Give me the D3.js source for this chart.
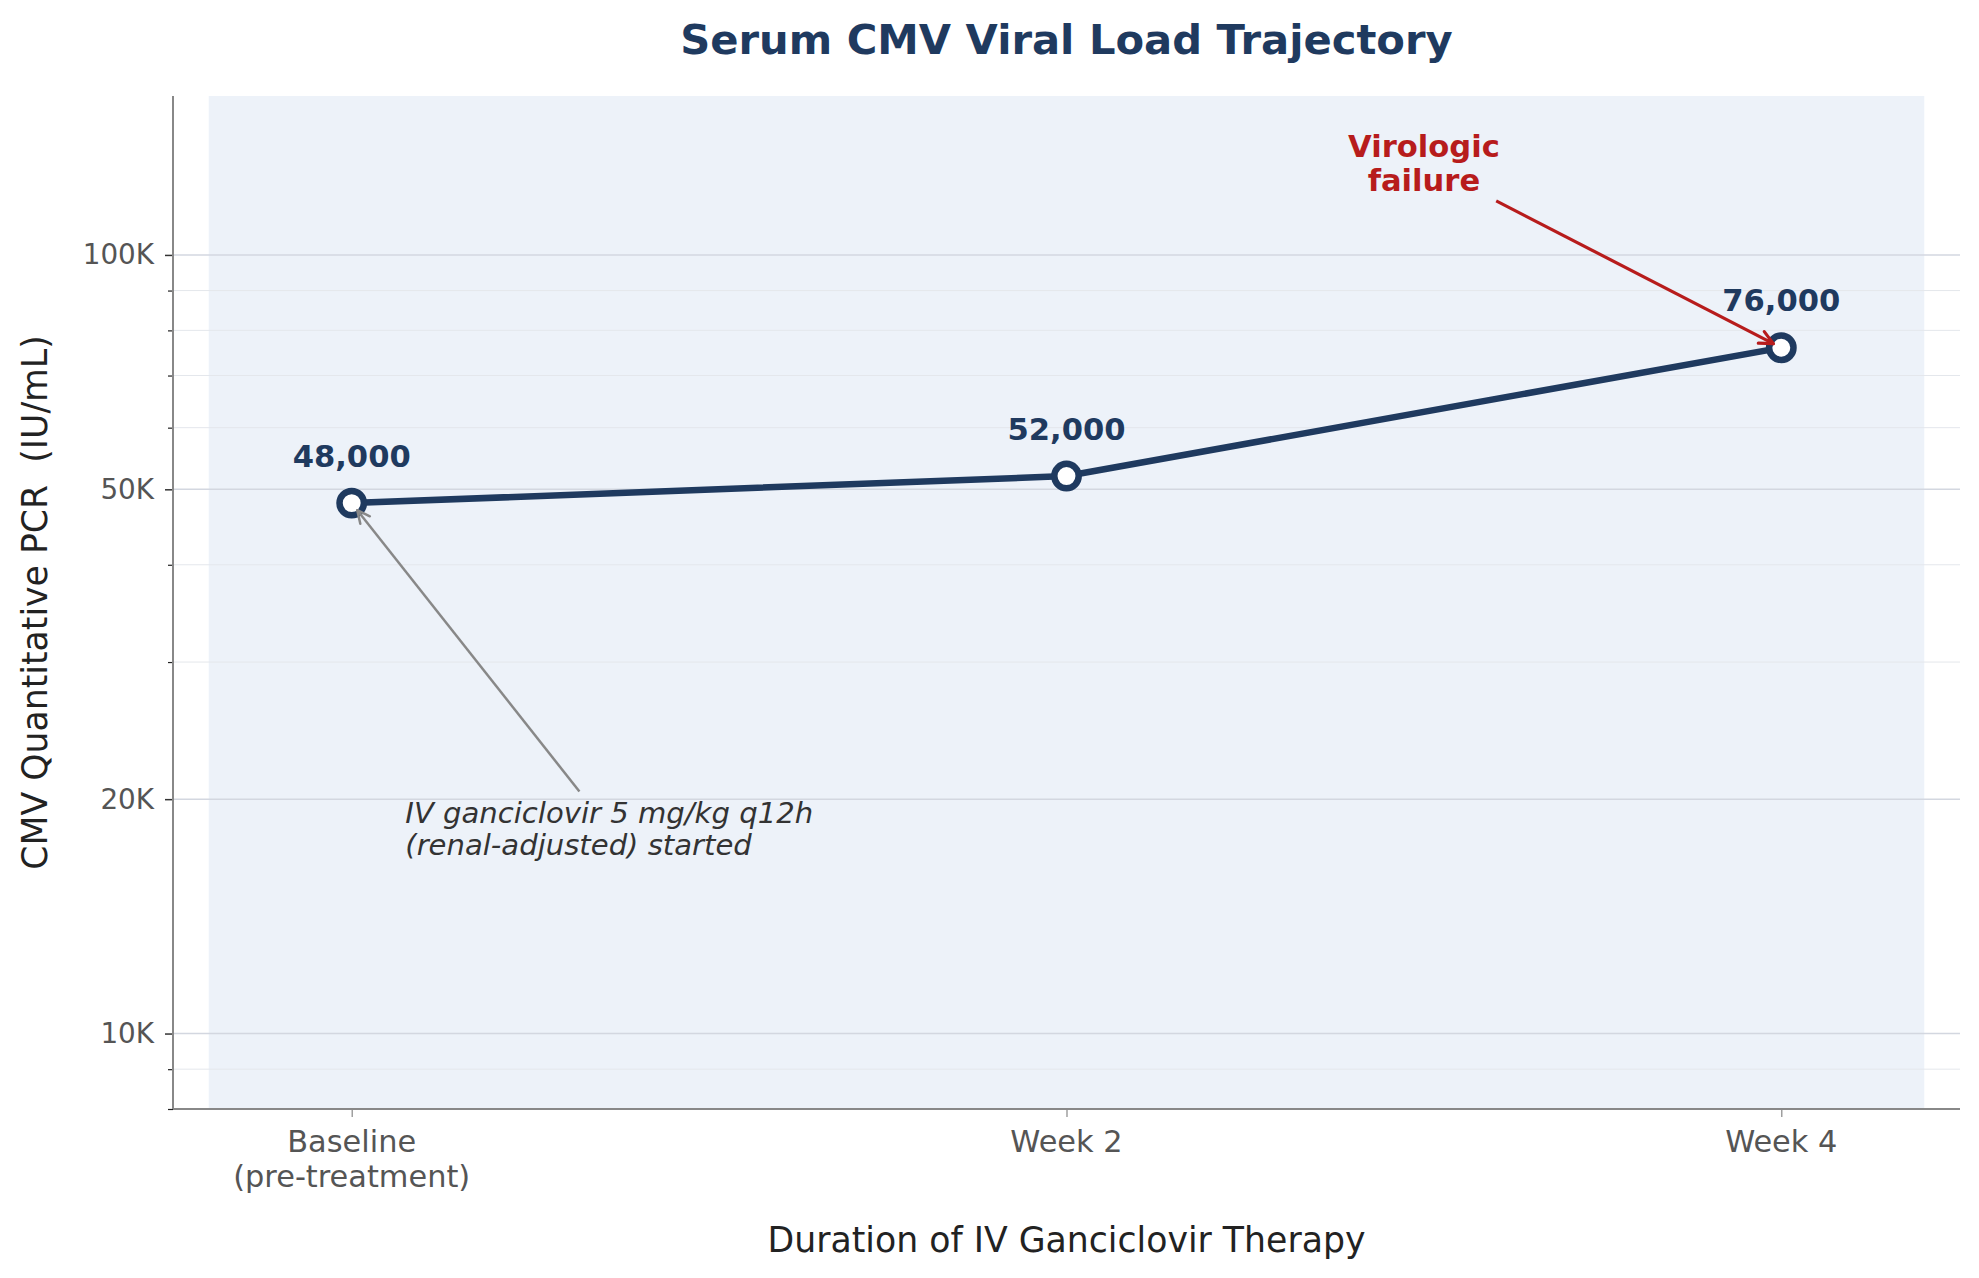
<!DOCTYPE html>
<html>
<head>
<meta charset="utf-8">
<script src="https://cdn.jsdelivr.net/npm/d3@7/dist/d3.min.js"></script>
<style>
	body { margin: 0; background: #ffffff; }
	text { font-family: 'DejaVu Sans', sans-serif; }
</style>
</head>
<body>
<div id="chart"></div>
<script>
'use strict';

// DATA
var categories = [['Baseline', '(pre-treatment)'], ['Week 2'], ['Week 4']];
var loadValues = [48000, 52000, 76000];
var pointLabels = ['48,000', '52,000', '76,000'];
var yMajorTicks = [10000, 20000, 50000, 100000];
var yMajorLabels = ['10K', '20K', '50K', '100K'];
var yMinorTicks = [8000, 9000, 30000, 40000, 60000, 70000, 80000, 90000];
var treatmentNote = ['IV ganciclovir 5 mg/kg q12h', '(renal-adjusted) started'];
var failureNote = ['Virologic', 'failure'];

var width = 1979;
var height = 1278;
var margin = {top: 96, right: 19, bottom: 169, left: 173};
var innerW = width - margin.left - margin.right;
var innerH = height - margin.top - margin.bottom;

var navy = '#1f3a5f';
var red = '#b71c1c';

var svg = d3.select('#chart').append('svg')
	.attr('width', width)
	.attr('height', height);

var g = svg.append('g')
	.attr('transform', 'translate(' + margin.left + ',' + margin.top + ')');

var xScale = d3.scaleLinear()
	.domain([-0.25, 2.25])
	.range([0, innerW]);

var yScale = d3.scaleLog()
	.domain([8000, 160000])
	.range([innerH, 0]);

// shaded treatment window
g.append('rect')
	.attr('x', xScale(-0.2))
	.attr('y', 0)
	.attr('width', xScale(2.2) - xScale(-0.2))
	.attr('height', innerH)
	.style('fill', '#edf2f9');

// grid
g.append('g').selectAll('line').data(yMinorTicks).enter().append('line')
	.attr('x1', 0).attr('x2', innerW)
	.attr('y1', function(d){ return yScale(d); })
	.attr('y2', function(d){ return yScale(d); })
	.style('stroke', '#e4e7ec')
	.style('stroke-width', 1);

g.append('g').selectAll('line').data(yMajorTicks).enter().append('line')
	.attr('x1', 0).attr('x2', innerW)
	.attr('y1', function(d){ return yScale(d); })
	.attr('y2', function(d){ return yScale(d); })
	.style('stroke', '#d3d7e0')
	.style('stroke-width', 1.5);

// y axis
var yAxis = d3.axisLeft(yScale)
	.tickValues(yMajorTicks)
	.tickFormat(function(d, i){ return yMajorLabels[i]; })
	.tickSize(8)
	.tickPadding(11);

var yAxisG = g.append('g').attr('class', 'axis y').call(yAxis);
yAxisG.select('.domain').remove();
yAxisG.selectAll('line').style('stroke', '#333').style('stroke-width', 1.5);
yAxisG.selectAll('text')
	.style('font-size', '27.8px')
	.style('fill', '#555');

var yMinorG = g.append('g').call(d3.axisLeft(yScale).tickValues(yMinorTicks).tickSize(5).tickFormat(''));
yMinorG.select('.domain').remove();
yMinorG.selectAll('line').style('stroke', '#222').style('stroke-width', 1.2);

// x axis
var xAxis = d3.axisBottom(xScale)
	.tickValues([0, 1, 2])
	.tickFormat('')
	.tickSize(8);

var xAxisG = g.append('g').attr('class', 'axis x')
	.attr('transform', 'translate(0,' + innerH + ')')
	.call(xAxis);
xAxisG.select('.domain').remove();
xAxisG.selectAll('line').style('stroke', '#888').style('stroke-width', 1.2);

var xLabels = g.append('g').selectAll('text').data(categories).enter().append('text')
	.attr('text-anchor', 'middle')
	.style('font-size', '30.4px')
	.style('fill', '#555');

xLabels.each(function(lines, i){
	d3.select(this).selectAll('tspan').data(lines).enter().append('tspan')
		.attr('x', xScale(i))
		.attr('y', function(d, j){ return innerH + 43 + j * 35; })
		.text(function(d){ return d; });
});

// spines
g.append('line')
	.attr('x1', 0).attr('x2', 0)
	.attr('y1', 0).attr('y2', innerH)
	.style('stroke', '#888').style('stroke-width', 2);

g.append('line')
	.attr('x1', 0).attr('x2', innerW)
	.attr('y1', innerH).attr('y2', innerH)
	.style('stroke', '#888').style('stroke-width', 2);

// line + markers
var line = d3.line()
	.x(function(d, i){ return xScale(i); })
	.y(function(d){ return yScale(d); });

g.append('path')
	.datum(loadValues)
	.attr('d', line)
	.style('fill', 'none')
	.style('stroke', navy)
	.style('stroke-width', 6.5)
	.style('stroke-linejoin', 'round');

g.append('g').selectAll('circle').data(loadValues).enter().append('circle')
	.attr('cx', function(d, i){ return xScale(i); })
	.attr('cy', function(d){ return yScale(d); })
	.attr('r', 12.2)
	.style('fill', '#fff')
	.style('stroke', navy)
	.style('stroke-width', 6.5);

g.append('g').selectAll('text').data(loadValues).enter().append('text')
	.attr('x', function(d, i){ return xScale(i); })
	.attr('y', function(d){ return yScale(d) - 47; })
	.attr('text-anchor', 'middle')
	.attr('dominant-baseline', 'central')
	.style('font-size', '30.6px')
	.style('font-weight', 'bold')
	.style('fill', navy)
	.text(function(d, i){ return pointLabels[i]; });

// annotations
function annotate(lines, tx, ty, anchor, target, opts){
	var block = g.append('text')
		.attr('text-anchor', anchor)
		.style('font-size', opts.size + 'px')
		.style('font-weight', opts.weight)
		.style('font-style', opts.style)
		.style('fill', opts.color);

	var n = lines.length;
	block.selectAll('tspan').data(lines).enter().append('tspan')
		.attr('x', xScale(tx))
		.attr('y', function(d, i){ return yScale(ty) + (i - (n - 1) / 2) * opts.lineH; })
		.attr('dominant-baseline', 'central')
		.text(function(d){ return d; });

	var box = block.node().getBBox();
	var cx = box.x + box.width / 2;
	var cy = box.y + box.height / 2;
	var px = xScale(target[0]);
	var py = yScale(target[1]);
	var dx = px - cx;
	var dy = py - cy;
	// exit point of the line from the text box
	var tX = dx !== 0 ? (box.width / 2) / Math.abs(dx) : Infinity;
	var tY = dy !== 0 ? (box.height / 2) / Math.abs(dy) : Infinity;
	var t = Math.min(tX, tY);
	var len = Math.sqrt(dx * dx + dy * dy);
	var ux = dx / len, uy = dy / len;
	var sx = cx + dx * t + ux * 6;
	var sy = cy + dy * t + uy * 6;
	var ex = px - ux * 9;
	var ey = py - uy * 9;

	g.append('line')
		.attr('x1', sx).attr('y1', sy)
		.attr('x2', ex).attr('y2', ey)
		.style('stroke', opts.arrow)
		.style('stroke-width', opts.lw);

	var ang = Math.atan2(uy, ux);
	var head = opts.head;
	[0.45, -0.45].forEach(function(a){
		g.append('line')
			.attr('x1', ex).attr('y1', ey)
			.attr('x2', ex - head * Math.cos(ang + a))
			.attr('y2', ey - head * Math.sin(ang + a))
			.style('stroke', opts.arrow)
			.style('stroke-width', opts.lw)
			.style('stroke-linecap', 'round');
	});
}

annotate(treatmentNote, 0.075, 18300, 'start', [0, loadValues[0]], {
	size: 29.1, weight: 'normal', style: 'italic', color: '#333', lineH: 32,
	arrow: '#888', lw: 2.5, head: 14
});

annotate(failureNote, 1.5, 131000, 'middle', [2, loadValues[2]], {
	size: 30.6, weight: 'bold', style: 'normal', color: red, lineH: 34,
	arrow: red, lw: 3.2, head: 15
});

// titles
svg.append('text')
	.attr('x', margin.left + xScale(1))
	.attr('y', 39)
	.attr('text-anchor', 'middle')
	.attr('dominant-baseline', 'central')
	.style('font-size', '41.7px')
	.style('font-weight', 'bold')
	.style('fill', navy)
	.text('Serum CMV Viral Load Trajectory');

svg.append('text')
	.attr('x', margin.left + xScale(1))
	.attr('y', 1240)
	.attr('text-anchor', 'middle')
	.attr('dominant-baseline', 'central')
	.style('font-size', '34.7px')
	.style('fill', '#222')
	.text('Duration of IV Ganciclovir Therapy');

svg.append('text')
	.attr('transform', 'translate(35,' + (margin.top + innerH / 2) + ') rotate(-90)')
	.attr('text-anchor', 'middle')
	.attr('dominant-baseline', 'central')
	.style('font-size', '34.7px')
	.style('fill', '#222')
	.style('white-space', 'pre')
	.text('CMV Quantitative PCR  (IU/mL)');
</script>
</body>
</html>
